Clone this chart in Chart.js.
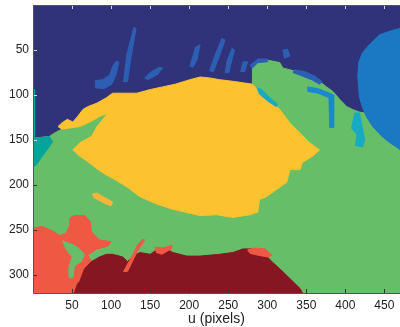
<!DOCTYPE html>
<html><head><meta charset="utf-8">
<script src="https://cdn.jsdelivr.net/npm/chart.js@4.4.1/dist/chart.umd.min.js"></script>
<style>html,body{margin:0;padding:0;background:#fff}canvas{display:block}</style>
</head><body>
<canvas id="c" width="400" height="327"></canvas>
<script>
// ---- data (image coordinates u,v in pixels of the segmented image) ----
const xTicks = [50,100,150,200,250,300,350,400,450];
const yTicks = [50,100,150,200,250,300];
const uMax = 470, vMax = 320;

const regionBackground = [[0,0],[470,0],[470,320],[0,320]];
const regionGreen = [[0,148],[12,147],[21,146],[28,142],[37,138],[60,135],[73,130],[85,124],[96,120],[150,114],[278,98],[281,89],[281,67],[288,61],[299,61],[316,64],[320,70],[329,72],[342,75],[358,80],[367,85],[376,91],[384,96],[393,105],[402,113],[409,116],[418,119],[425,120],[427,124],[435,135],[447,146],[457,153],[466,158],[470,161],[470,320],[0,320]];
const regionYellow = [[32,135],[37,131],[44,127],[51,130],[57,124],[64,116],[70,113],[82,109],[94,103],[102,98],[115,98],[133,98],[150,94],[166,91],[182,88],[201,83],[214,80],[226,81],[239,83],[258,85],[281,88],[290,96],[303,105],[316,116],[329,131],[342,142],[354,153],[367,161],[358,168],[345,175],[342,183],[329,183],[325,197],[299,213],[290,216],[288,230],[278,233],[256,236],[235,233],[214,234],[179,227],[158,221],[137,213],[120,202],[105,194],[92,188],[79,180],[70,174],[60,168],[51,161],[60,153],[75,146],[82,135],[96,120],[85,124],[73,130],[60,135],[37,138]];
const regionRed = [[0,248],[12,246],[25,251],[34,256],[42,254],[47,245],[47,237],[52,234],[66,234],[73,240],[75,252],[85,261],[100,263],[96,268],[82,271],[70,278],[75,285],[66,320],[0,320]];
const regionGreenLobe = [[38,262],[50,266],[57,269],[66,277],[62,285],[53,290],[51,303],[46,303],[46,291],[50,280],[42,271]];
const regionDarkRed = [[53,320],[57,310],[60,307],[66,293],[75,285],[85,280],[94,277],[102,277],[115,280],[121,285],[128,279],[137,275],[150,277],[160,271],[171,271],[179,275],[197,279],[214,279],[239,277],[256,275],[269,271],[281,271],[299,279],[307,286],[316,293],[329,304],[342,315],[345,320]];
const regionRedBlob = [[275,272],[284,270],[297,271],[306,278],[301,280],[288,278],[278,276]];
const regionRedStreak1 = [[116,296],[128,277],[134,266],[141,260],[142,263],[134,273],[121,296]];
const regionRedStreak2 = [[156,269],[166,270],[178,267],[177,271],[165,277],[158,275]];
const regionOrangeStreak = [[76,210],[82,209],[102,219],[100,223],[93,221],[78,214]];
const regionTeal = [[0,148],[12,147],[21,146],[25,152],[18,161],[11,169],[5,177],[0,180]];
const regionTealStrip = [[0,94],[2,94],[2,148],[0,148]];
const regionBlueDisk = [[470,26],[461,28],[444,33],[431,44],[422,53],[417,64],[416,80],[418,102],[422,114],[425,120],[427,124],[435,135],[447,146],[457,153],[466,158],[470,161]];
const streak1 = [[80,84],[89,83],[98,78],[102,68],[107,62],[110,64],[106,78],[101,88],[91,93],[80,92]];
const streak2 = [[129,25],[132,26],[125,61],[121,85],[116,85],[120,56]];
const streak3 = [[143,81],[150,75],[162,69],[166,70],[160,77],[147,83]];
const streak4 = [[208,47],[214,44],[210,61],[205,69],[201,68],[205,56]];
const streak5 = [[242,37],[246,39],[237,61],[231,74],[226,73],[233,56]];
const streak6 = [[255,48],[258,50],[253,67],[251,75],[246,75],[249,61]];
const streak7 = [[269,63],[275,63],[271,74],[266,74]];
const streak8 = [[278,67],[288,60],[299,60],[301,63],[288,64],[281,70]];
const streak9 = [[320,50],[326,49],[329,57],[322,59]];
const streak10 = [[335,72],[348,74],[361,79],[370,85],[367,88],[357,83],[342,78],[333,75]];
const streakLight = [[352,91],[365,93],[380,98],[385,100],[385,136],[380,136],[379,103],[365,98],[352,96]];
const streakCyan = [[412,120],[418,120],[421,133],[425,150],[422,158],[413,156],[415,144],[408,137]];
const edgeCyan = [[287,92],[293,94],[303,103],[313,110],[312,113],[301,107],[290,99]];

// ---- styles ----
const palette = {
  navy:'#30337a', green:'#66be69', yellow:'#fdc22f', red:'#ef5944', darkred:'#861621',
  blue:'#1b79c4', mid:'#2c5fb3', light:'#1a87d5', cyan:'#17aac2', teal:'#05a49b', orange:'#f6b53a'
};
const layers = [
  [regionBackground,'navy'],[regionGreen,'green'],[regionYellow,'yellow'],[regionTealStrip,'teal'],[regionTeal,'teal'],
  [regionRed,'red'],[regionGreenLobe,'green'],[regionDarkRed,'darkred'],[regionRedBlob,'red'],
  [regionRedStreak1,'red'],[regionRedStreak2,'red'],[regionOrangeStreak,'orange'],
  [regionBlueDisk,'blue'],[streak1,'mid'],[streak2,'mid'],[streak3,'mid'],[streak4,'mid'],[streak5,'mid'],
  [streak6,'mid'],[streak7,'mid'],[streak8,'mid'],[streak9,'mid'],[streak10,'mid'],
  [streakLight,'light'],[streakCyan,'cyan'],[edgeCyan,'cyan']
];

const datasets = layers.map(([pts,col],i)=>{
  const data = pts.map(p=>({x:p[0],y:p[1]}));
  data.push({x:pts[0][0],y:pts[0][1]});
  return {data, showLine:true, fill:'shape', backgroundColor:palette[col], borderColor:palette[col],
    borderWidth:1, pointRadius:0, pointHoverRadius:0, tension:0, order: layers.length - i};
});

const frame = {
  id:'frame',
  afterDraw(chart){
    const {ctx, chartArea:a, scales:{x,y}} = chart;
    ctx.save();
    ctx.lineWidth = 1;
    xTicks.forEach(t=>{
      const px = Math.round(x.getPixelForValue(t))+0.5;
      ctx.strokeStyle = '#d8d8d8';
      ctx.beginPath(); ctx.moveTo(px,a.top); ctx.lineTo(px,a.top+4); ctx.stroke();
      ctx.strokeStyle = '#333';
      ctx.beginPath(); ctx.moveTo(px,a.bottom); ctx.lineTo(px,a.bottom-4); ctx.stroke();
    });
    yTicks.forEach(t=>{
      const py = Math.round(y.getPixelForValue(t))+0.5;
      ctx.strokeStyle = t<=150 ? '#d8d8d8' : '#333';
      ctx.beginPath(); ctx.moveTo(a.left,py); ctx.lineTo(a.left+4,py); ctx.stroke();
    });
    ctx.strokeStyle = '#555';
    ctx.beginPath();
    ctx.moveTo(a.right, a.top+0.5); ctx.lineTo(a.left+0.5, a.top+0.5);
    ctx.lineTo(a.left+0.5, a.bottom+0.5); ctx.lineTo(a.right, a.bottom+0.5);
    ctx.stroke();
    ctx.restore();
  }
};

new Chart(document.getElementById('c'), {
  type:'scatter',
  data:{datasets},
  options:{
    responsive:false, animation:false, events:[],
    layout:{padding:{top:5,right:0,left:0,bottom:0}},
    plugins:{legend:{display:false}, tooltip:{enabled:false}},
    scales:{
      x:{type:'linear', min:0, max:uMax, position:'bottom',
        afterFit(s){ s.height = 34; s.paddingLeft = 0; s.paddingRight = 0; },
        afterBuildTicks(s){ s.ticks = xTicks.map(v=>({value:v})); },
        grid:{display:false, drawTicks:false}, border:{display:false},
        ticks:{padding:5, color:'#222', font:{family:'Liberation Sans, Arial, sans-serif', size:12}, maxRotation:0, autoSkip:false},
        title:{display:true, text:'u (pixels)', color:'#222', padding:{top:0,bottom:0}, font:{family:'Liberation Sans, Arial, sans-serif', size:14, lineHeight:1.1}}
      },
      y:{type:'linear', min:0, max:vMax, reverse:true,
        afterFit(s){ s.width = 33; s.paddingTop = 0; s.paddingBottom = 0; },
        afterBuildTicks(s){ s.ticks = yTicks.map(v=>({value:v})); },
        grid:{display:false, drawTicks:false}, border:{display:false},
        ticks:{padding:4, color:'#222', font:{family:'Liberation Sans, Arial, sans-serif', size:12}, autoSkip:false}
      }
    }
  },
  plugins:[frame]
});
</script>
</body></html>
